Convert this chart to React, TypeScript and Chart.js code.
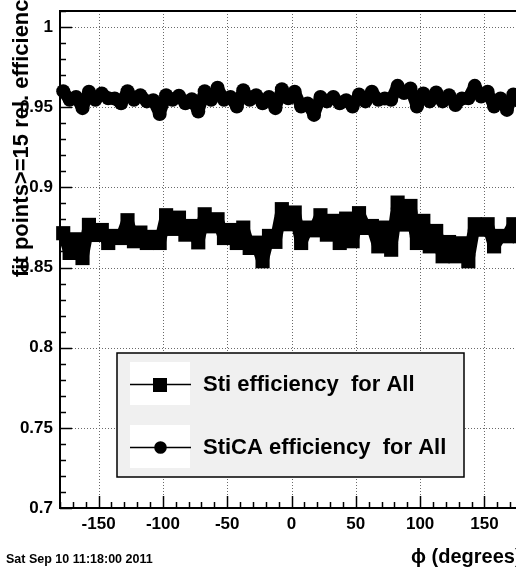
import React, { useEffect, useRef } from "react";
import { Chart, registerables } from "chart.js";

Chart.register(...registerables);

// ---- data ----
const PHI_MIN = -180;
const PHI_MAX = 180;
const BIN_WIDTH = 5;
const Y_MIN = 0.7;
const Y_MAX = 1.01;

const stiEff = [
  0.8714, 0.8591, 0.8676, 0.8559, 0.8766, 0.8703, 0.8734, 0.8653, 0.8697, 0.8684,
  0.8795, 0.8664, 0.8718, 0.8653, 0.8691, 0.8653, 0.8826, 0.8741, 0.8811, 0.8705,
  0.8759, 0.8657, 0.8832, 0.8757, 0.8801, 0.8684, 0.8734, 0.8653, 0.8749, 0.8622,
  0.8655, 0.8539, 0.8697, 0.866, 0.8864, 0.877, 0.8843, 0.8653, 0.8749, 0.8732,
  0.8826, 0.8705, 0.8791, 0.8653, 0.8805, 0.8664, 0.8839, 0.8747, 0.8759, 0.8632,
  0.8749, 0.8611, 0.8905, 0.8768, 0.8884, 0.8653, 0.8791, 0.8632, 0.8728, 0.857,
  0.8659, 0.857, 0.8651, 0.8539, 0.877, 0.8736, 0.877, 0.8632, 0.8697, 0.8695,
  0.877, 0.8695,
];

const sticaEff = [
  0.96, 0.9546, 0.9564, 0.9494, 0.9596, 0.9546, 0.9586, 0.9556, 0.9554, 0.9525,
  0.96, 0.9546, 0.9575, 0.9536, 0.9544, 0.9458, 0.9575, 0.9546, 0.9571, 0.9525,
  0.955, 0.9473, 0.96, 0.9546, 0.9621, 0.9546, 0.9564, 0.9504, 0.9606, 0.9546,
  0.9575, 0.9525, 0.9564, 0.9494, 0.9612, 0.9556, 0.9596, 0.9504, 0.9523, 0.9452,
  0.9564, 0.9536, 0.9564, 0.9525, 0.9544, 0.9504, 0.9579, 0.9536, 0.9596, 0.9546,
  0.9554, 0.9546, 0.9633, 0.9588, 0.9617, 0.9504, 0.9586, 0.9536, 0.9592, 0.9536,
  0.9575, 0.9514, 0.9554, 0.9556, 0.9633, 0.9567, 0.9596, 0.9504, 0.9554, 0.9483,
  0.9579, 0.9536,
];

const xTickValues = [-150, -100, -50, 0, 50, 100, 150];
const yTickValues = [0.7, 0.75, 0.8, 0.85, 0.9, 0.95, 1.0];
const X_MINOR_STEP = 10;
const Y_MINOR_STEP = 0.01;

const seriesLabels = ["Sti efficiency  for All", "StiCA efficiency  for All"];
const xTitle = "\u03d5 (degrees)";
const yTitle = "fit points>=15 rel. efficiency";
const dateText = "Sat Sep 10 11:18:00 2011";

const FONT = "'Liberation Sans', Arial, Helvetica, sans-serif";

const binCenters = stiEff.map((_, i) => PHI_MIN + BIN_WIDTH * (i + 0.5));

const rootPlugin = {
  id: "rootStyle",
  beforeDatasetsDraw(chart: any) {
    const { ctx, chartArea: a } = chart;
    const xs = chart.scales.x;
    const ys = chart.scales.y;
    ctx.save();
    ctx.strokeStyle = "#6a6a6a";
    ctx.lineWidth = 1;
    ctx.setLineDash([1, 2]);
    for (const v of xTickValues) {
      const px = Math.round(xs.getPixelForValue(v)) + 0.5;
      ctx.beginPath();
      ctx.moveTo(px, a.top);
      ctx.lineTo(px, a.bottom);
      ctx.stroke();
    }
    for (const v of yTickValues) {
      if (v <= Y_MIN) continue;
      const py = Math.round(ys.getPixelForValue(v)) + 0.5;
      ctx.beginPath();
      ctx.moveTo(a.left, py);
      ctx.lineTo(a.right, py);
      ctx.stroke();
    }
    ctx.setLineDash([]);
    ctx.strokeStyle = "#000";
    ctx.lineWidth = 1.5;
    const nY = Math.round((Y_MAX - Y_MIN) / Y_MINOR_STEP);
    for (let i = 0; i <= nY; i++) {
      const v = Y_MIN + i * Y_MINOR_STEP;
      const major = yTickValues.some((t) => Math.abs(t - v) < 1e-6);
      const py = Math.round(ys.getPixelForValue(v)) + 0.5;
      ctx.beginPath();
      ctx.moveTo(a.left, py);
      ctx.lineTo(a.left + (major ? 12 : 6), py);
      ctx.stroke();
    }
    const nX = Math.round((PHI_MAX - PHI_MIN) / X_MINOR_STEP);
    for (let i = 0; i <= nX; i++) {
      const v = PHI_MIN + i * X_MINOR_STEP;
      const major = xTickValues.includes(v);
      const px = Math.round(xs.getPixelForValue(v)) + 0.5;
      ctx.beginPath();
      ctx.moveTo(px, a.bottom);
      ctx.lineTo(px, a.bottom - (major ? 12 : 6));
      ctx.stroke();
    }
    ctx.lineWidth = 2;
    ctx.strokeRect(a.left, a.top, a.right - a.left, a.bottom - a.top);
    ctx.restore();
  },
  afterDraw(chart: any) {
    const { ctx } = chart;
    ctx.save();
    ctx.fillStyle = "#f0f0f0";
    ctx.fillRect(117, 353, 347, 124);
    ctx.strokeStyle = "#000";
    ctx.lineWidth = 1.5;
    ctx.strokeRect(117, 353, 347, 124);
    const rows = [384, 447];
    rows.forEach((cy, i) => {
      ctx.fillStyle = "#fff";
      ctx.fillRect(130, cy - 22, 60, 43);
      ctx.strokeStyle = "#000";
      ctx.lineWidth = 1.5;
      ctx.beginPath();
      ctx.moveTo(130, cy + 0.5);
      ctx.lineTo(191, cy + 0.5);
      ctx.stroke();
      ctx.fillStyle = "#000";
      if (i === 0) {
        ctx.fillRect(153, cy - 6, 14, 14);
      } else {
        ctx.beginPath();
        ctx.arc(160.5, cy + 0.5, 6.3, 0, Math.PI * 2);
        ctx.fill();
      }
      ctx.font = `bold 22px ${FONT}`;
      ctx.textAlign = "left";
      ctx.textBaseline = "middle";
      ctx.fillText(seriesLabels[i], 203, cy + 1);
    });
    ctx.save();
    ctx.translate(28, 277);
    ctx.rotate(-Math.PI / 2);
    ctx.font = `bold 22px ${FONT}`;
    ctx.textAlign = "left";
    ctx.textBaseline = "alphabetic";
    ctx.fillStyle = "#000";
    ctx.fillText(yTitle, 0, 0);
    ctx.restore();
    ctx.fillStyle = "#000";
    ctx.font = `bold 20px ${FONT}`;
    ctx.textAlign = "left";
    ctx.textBaseline = "alphabetic";
    ctx.fillText(xTitle, 411, 563);
    ctx.font = `bold 12.5px ${FONT}`;
    ctx.textBaseline = "middle";
    ctx.fillText(dateText, 6, 560);
    ctx.restore();
  },
};

function fmt(v: number) {
  return String(Math.round(v * 100) / 100);
}

function makeDataset(label: string, values: number[], style: string, radius: number) {
  return {
    type: "line",
    label,
    data: binCenters.map((x, i) => ({ x, y: values[i] })),
    showLine: true,
    borderColor: "#000",
    backgroundColor: "#000",
    borderWidth: 12,
    borderJoinStyle: "round",
    borderCapStyle: "round",
    tension: 0,
    fill: false,
    pointStyle: style,
    pointRadius: radius,
    pointBorderWidth: 0,
    pointBackgroundColor: "#000",
    pointBorderColor: "#000",
    clip: false,
  } as any;
}

export default function App() {
  const ref = useRef<HTMLCanvasElement | null>(null);
  useEffect(() => {
    if (!ref.current) return;
    Chart.defaults.font.family = FONT;
    const chart = new Chart(ref.current, {
      type: "line",
      data: {
        datasets: [
          makeDataset(seriesLabels[0], stiEff, "rect", 10),
          makeDataset(seriesLabels[1], sticaEff, "circle", 7),
        ],
      },
      options: {
        animation: false,
        responsive: false,
        devicePixelRatio: 1,
        layout: { padding: { left: 0, top: 11, right: 17, bottom: 0 } },
        plugins: { legend: { display: false }, tooltip: { enabled: false } },
        scales: {
          x: {
            type: "linear",
            min: PHI_MIN,
            max: PHI_MAX,
            grid: { display: false, drawTicks: false },
            border: { display: false },
            afterBuildTicks: (s: any) => {
              s.ticks = xTickValues.map((value) => ({ value }));
            },
            afterFit: (s: any) => {
              s.height = 62;
              s.paddingLeft = 0;
              s.paddingRight = 0;
              s.paddingTop = 0;
              s.paddingBottom = 0;
            },
            ticks: {
              autoSkip: false,
              maxRotation: 0,
              padding: 6,
              color: "#000",
              font: { family: FONT, size: 17, weight: "bold" },
              callback: (v: any) => String(v),
            },
          },
          y: {
            type: "linear",
            min: Y_MIN,
            max: Y_MAX,
            grid: { display: false, drawTicks: false },
            border: { display: false },
            afterBuildTicks: (s: any) => {
              s.ticks = yTickValues.map((value) => ({ value }));
            },
            afterFit: (s: any) => {
              s.width = 60;
              s.paddingLeft = 0;
              s.paddingRight = 0;
              s.paddingTop = 0;
              s.paddingBottom = 0;
            },
            ticks: {
              autoSkip: false,
              padding: 7,
              color: "#000",
              font: { family: FONT, size: 17, weight: "bold" },
              callback: (v: any) => fmt(Number(v)),
            },
          },
        },
      },
      plugins: [rootPlugin],
    });
    return () => chart.destroy();
  }, []);
  return (
    <div
      style={{
        position: "fixed",
        left: 0,
        top: 0,
        width: 516,
        height: 570,
        overflow: "hidden",
        background: "#fff",
      }}
    >
      <canvas ref={ref} width={540} height={570} style={{ display: "block", width: 540, height: 570 }} />
    </div>
  );
}
